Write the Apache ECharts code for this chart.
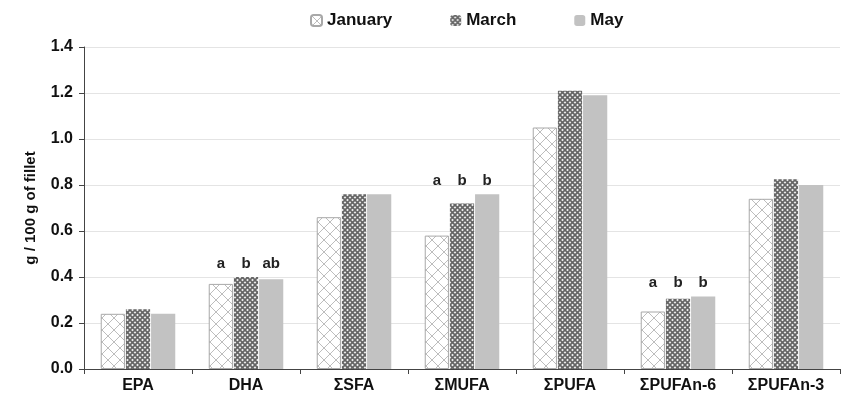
<!DOCTYPE html>
<html><head><meta charset="utf-8">
<script src="https://cdn.jsdelivr.net/npm/echarts@6/dist/echarts.min.js"></script>
<style>html,body{margin:0;padding:0;background:#fff}#c{width:848px;height:407px}</style>
</head><body><div id="c"></div>
<script>
const categories = ['EPA', 'DHA', 'ΣSFA', 'ΣMUFA', 'ΣPUFA', 'ΣPUFAn-6', 'ΣPUFAn-3'];
const seriesNames = ['January', 'March', 'May'];
const january = [0.24, 0.37, 0.66, 0.58, 1.05, 0.25, 0.74];
const march = [0.26, 0.40, 0.76, 0.72, 1.21, 0.305, 0.825];
const may = [0.24, 0.39, 0.76, 0.76, 1.19, 0.315, 0.80];
const janLetters = ['', 'a', '', 'a', '', 'a', ''];
const marLetters = ['', 'b', '', 'b', '', 'b', ''];
const mayLetters = ['', 'ab', '', 'b', '', 'b', ''];
const yTicks = [0.0, 0.2, 0.4, 0.6, 0.8, 1.0, 1.2, 1.4];

function makePattern(size, bg, line, lw) {
  const c = document.createElement('canvas');
  c.width = size; c.height = size;
  const g = c.getContext('2d');
  g.fillStyle = bg; g.fillRect(0, 0, size, size);
  g.strokeStyle = line; g.lineWidth = lw;
  g.beginPath();
  g.moveTo(-1, -1); g.lineTo(size + 1, size + 1);
  g.moveTo(-1, size + 1); g.lineTo(size + 1, -1);
  g.stroke();
  return { image: c, repeat: 'repeat' };
}
const janPat = makePattern(12, '#ffffff', '#bdbdbd', 1);
const marPat = makePattern(5, '#eeeeee', '#646464', 1.6);

const gridTop = 47, gridBottom = 38, H = 407;
const pxPerUnit = (H - gridTop - gridBottom) / 1.4;
const groupMax = categories.map((_, i) => Math.max(january[i], march[i], may[i]));

function dataWithLetters(vals, letters) {
  return vals.map((v, i) => ({
    value: v,
    label: {
      show: letters[i] !== '',
      formatter: letters[i],
      position: 'top',
      distance: 6 + (groupMax[i] - v) * pxPerUnit
    }
  }));
}

const FONT = 'Liberation Sans, Arial';
const labelStyle = { color: '#222', fontWeight: 'bold', fontSize: 15, fontFamily: FONT };

const chart = echarts.init(document.getElementById('c'));
chart.setOption({
  animation: false,
  backgroundColor: '#fff',
  textStyle: { fontFamily: FONT },
  legend: {
    top: 7, left: 305,
    itemWidth: 11, itemHeight: 11, itemGap: 58,
    textStyle: { fontWeight: 'bold', fontSize: 17, color: '#111', fontFamily: FONT },
    data: seriesNames
  },
  grid: { left: 84, right: 8, top: gridTop, bottom: gridBottom },
  xAxis: {
    type: 'category', data: categories,
    axisLine: { lineStyle: { color: '#444', width: 1 } },
    axisTick: { show: true, alignWithLabel: false, length: 5, lineStyle: { color: '#444' } },
    axisLabel: { color: '#111', fontWeight: 'bold', fontSize: 16, margin: 9 }
  },
  yAxis: {
    type: 'value', min: 0, max: 1.4, interval: 0.2,
    name: 'g / 100 g of fillet', nameLocation: 'middle', nameGap: 46,
    nameTextStyle: { fontWeight: 'bold', fontSize: 15, color: '#111' },
    axisLine: { show: true, lineStyle: { color: '#444' } },
    axisTick: { show: true, length: 5, lineStyle: { color: '#444' } },
    axisLabel: { color: '#111', fontWeight: 'bold', fontSize: 16, margin: 11,
      formatter: v => { const t = yTicks.find(x => Math.abs(x - v) < 1e-6); return (t !== undefined ? t : v).toFixed(1); } },
    splitLine: { lineStyle: { color: '#e4e4e4' } }
  },
  series: [
    { name: 'January', type: 'bar', data: dataWithLetters(january, janLetters),
      barGap: '4%', barCategoryGap: '31%',
      itemStyle: { color: janPat, borderColor: '#a8a8a8', borderWidth: 1 }, label: labelStyle },
    { name: 'March', type: 'bar', data: dataWithLetters(march, marLetters),
      barGap: '4%', barCategoryGap: '31%',
      itemStyle: { color: marPat }, label: labelStyle },
    { name: 'May', type: 'bar', data: dataWithLetters(may, mayLetters),
      barGap: '4%', barCategoryGap: '31%',
      itemStyle: { color: '#c2c2c2' }, label: labelStyle }
  ]
});
</script></body></html>
